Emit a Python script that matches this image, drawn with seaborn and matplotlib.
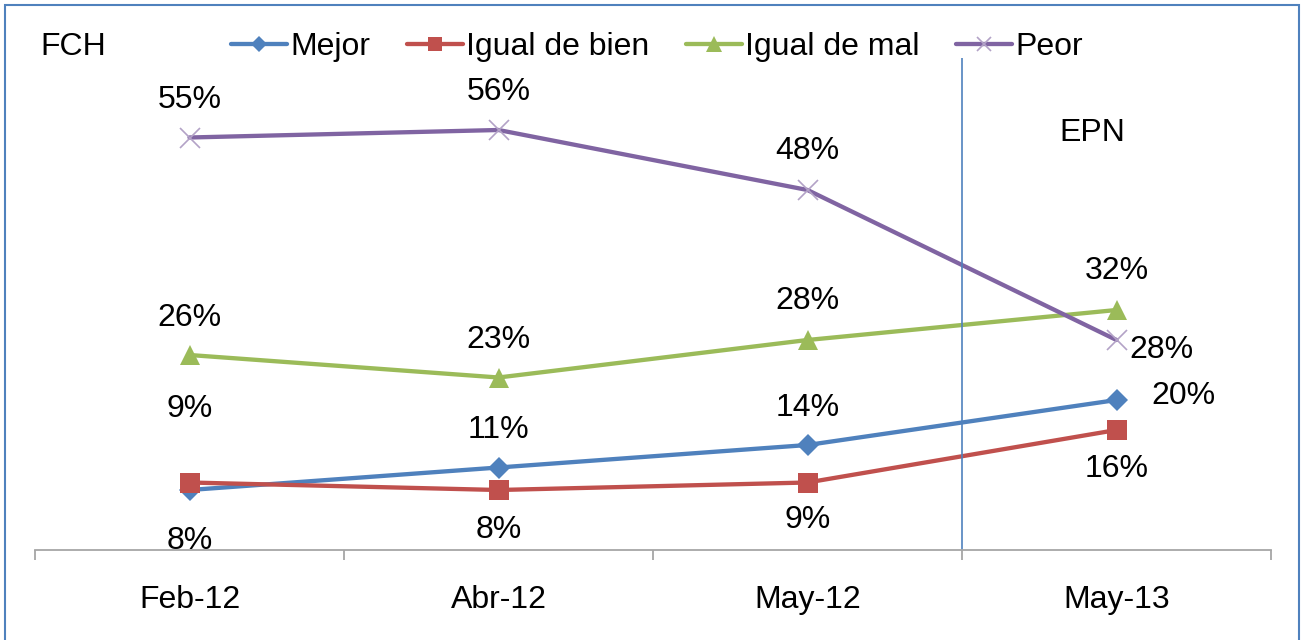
import seaborn as sns
import matplotlib.pyplot as plt
import pandas as pd
from matplotlib.patches import Rectangle
from matplotlib.ticker import FixedLocator

# datos del grafico
periodos = ["Feb-12", "Abr-12", "May-12", "May-13"]
mejor = [8, 11, 14, 20]
igual_bien = [9, 8, 9, 16]
igual_mal = [26, 23, 28, 32]
peor = [55, 56, 48, 28]

# etiquetas tal como aparecen en el grafico
etq_mejor = ["9%", "11%", "14%", "20%"]
etq_bien = ["8%", "8%", "9%", "16%"]
etq_mal = ["26%", "23%", "28%", "32%"]
etq_peor = ["55%", "56%", "48%", "28%"]

sns.set_style("white")
plt.rcParams["font.family"] = ["Liberation Sans", "DejaVu Sans"]
plt.rcParams["text.color"] = "black"
plt.rcParams["xtick.color"] = "black"

series = [
    ("Mejor", mejor, etq_mejor, "#4F81BD", "D", 11),
    ("Igual de bien", igual_bien, etq_bien, "#C0504D", "s", 14),
    ("Igual de mal", igual_mal, etq_mal, "#9BBB59", "^", 15),
    ("Peor", peor, etq_peor, "#8064A2", "x", 14),
]

# desplazamiento de las etiquetas (puntos)
offsets = {
    "Mejor": [(0, 58), (0, 27), (0, 27), (48, 3)],
    "Igual de bien": [(0, -42), (0, -29), (0, -27), (0, -28)],
    "Igual de mal": [(0, 27), (0, 27), (0, 28), (0, 28)],
    "Peor": [(0, 27), (0, 27), (0, 28), (32, -7)],
}

fig = plt.figure(figsize=(13.06, 6.4), dpi=100)
ax = fig.add_axes([35 / 1306, 90 / 640, 1236 / 1306, 495 / 640])

for nombre, valores, etiquetas, color, marca, ms in series:
    df = pd.DataFrame({"periodo": periodos, "valor": valores})
    if marca == "x":
        extra = dict(markeredgecolor="#B3A2C7", markeredgewidth=1.2)
    else:
        extra = dict(markeredgecolor=color, markeredgewidth=0)
    sns.lineplot(data=df, x="periodo", y="valor", ax=ax, color=color,
                 marker=marca, markersize=ms, linewidth=3.1, sort=False,
                 label=nombre, **extra)
    for i, (v, t) in enumerate(zip(valores, etiquetas)):
        ax.annotate(t, (i, v), xytext=offsets[nombre][i], textcoords="offset points",
                    ha="center", va="center", fontsize=23, color="black")

ax.set_xlim(-0.5, 3.5)
ax.set_ylim(0, 66)
ax.vlines(2.5, 0, 65.6, color="#4F81BD", linewidth=1.2)

for s in ["top", "left", "right"]:
    ax.spines[s].set_visible(False)
ax.spines["bottom"].set_color("#A6A6A6")
ax.spines["bottom"].set_linewidth(1.3)
ax.set_yticks([])
ax.set_xlabel("")
ax.set_ylabel("")
ax.set_xticks(range(len(periodos)))
ax.set_xticklabels(periodos, fontsize=23)
ax.xaxis.set_minor_locator(FixedLocator([-0.5, 0.5, 1.5, 2.5, 3.5]))
ax.tick_params(axis="x", which="major", length=0, pad=25)
ax.tick_params(axis="x", which="minor", length=7, width=1.3, color="#A6A6A6",
               direction="out", bottom=True)

leg = ax.legend(loc="center", bbox_to_anchor=(657 / 1306, 1 - 47 / 640),
                bbox_transform=fig.transFigure, ncol=4, frameon=False, fontsize=23,
                handlelength=1.75, handletextpad=0.1, columnspacing=1.15)
for h in leg.legend_handles:
    h.set_markersize(h.get_markersize() * 0.75)

fig.text(40 / 1306, 1 - 47 / 640, "FCH", fontsize=23, va="center", ha="left")
fig.text(1092 / 1306, 1 - 133 / 640, "EPN", fontsize=23, va="center", ha="center")

fig.patches.append(Rectangle((5 / 1306, -0.02), 1294 / 1306, 1.02 - 5 / 640,
                             transform=fig.transFigure, fill=False,
                             edgecolor="#4F81BD", linewidth=1.5))

fig.savefig("out.png", dpi=100)
